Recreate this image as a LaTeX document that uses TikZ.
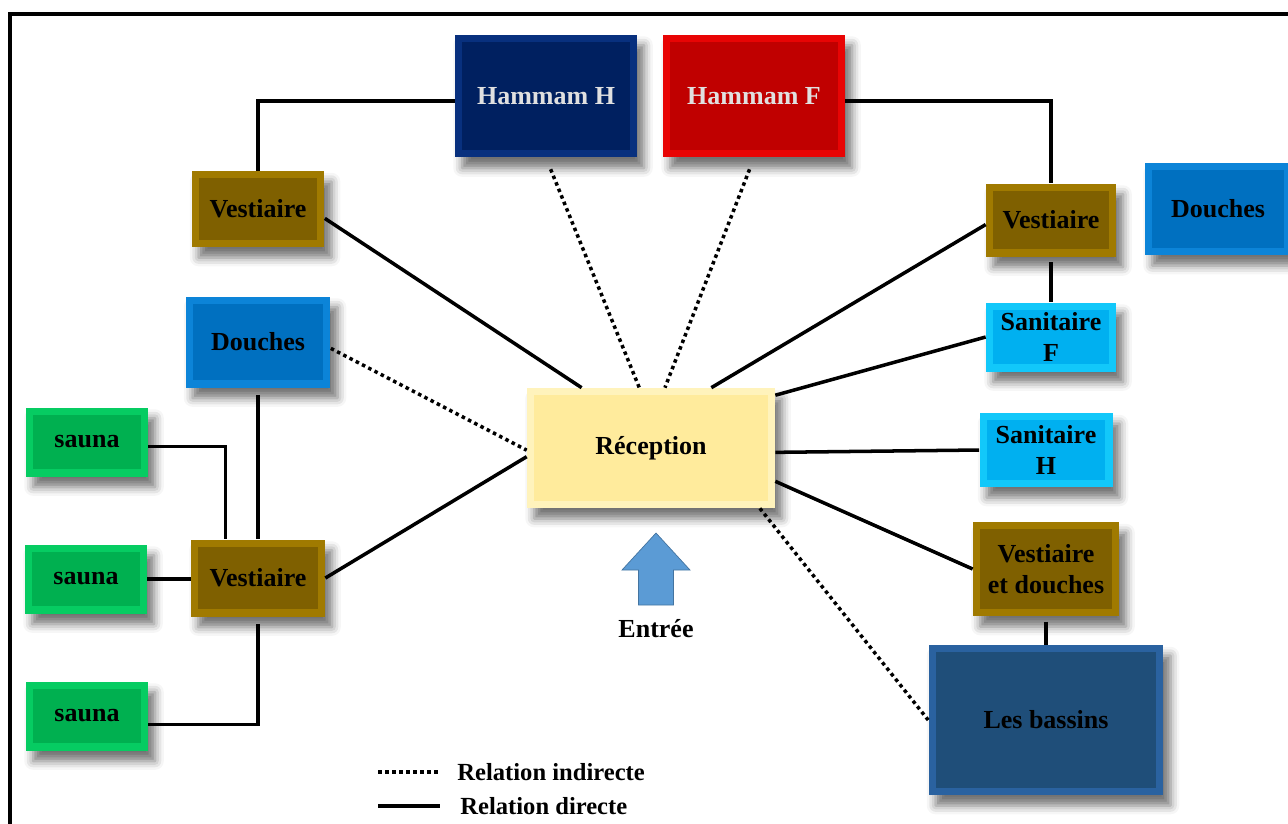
\documentclass[tikz,border=0pt]{standalone}
\usepackage{fontspec}
\setmainfont{Liberation Serif}
\usetikzlibrary{shadows.blur}

\definecolor{gold}{HTML}{7F6000}
\definecolor{goldedge}{HTML}{A07A00}
\definecolor{navy}{HTML}{002060}
\definecolor{navyedge}{HTML}{08307E}
\definecolor{crimson}{HTML}{C00000}
\definecolor{crimsonedge}{HTML}{E80404}
\definecolor{ocean}{HTML}{0070C0}
\definecolor{oceanedge}{HTML}{0C84D8}
\definecolor{sky}{HTML}{00B0F0}
\definecolor{skyedge}{HTML}{12C8FA}
\definecolor{grass}{HTML}{00B050}
\definecolor{grassedge}{HTML}{06CC62}
\definecolor{pool}{HTML}{1F4E79}
\definecolor{pooledge}{HTML}{2A62A0}
\definecolor{cream}{HTML}{FFEB9C}
\definecolor{creamedge}{HTML}{FFF3BC}
\definecolor{entry}{HTML}{5B9BD5}

\tikzset{
  box/.style 2 args={fill=#2, inner sep=0pt, align=center,
    font=\fontsize{14.8}{17.5}\selectfont\bfseries,
    blur shadow={shadow xshift=4pt, shadow yshift=-6pt,
                 shadow blur radius=5pt, shadow opacity=55},
    path picture={\fill[#1]
      ([shift={(4pt,-4pt)}]path picture bounding box.north west) rectangle
      ([shift={(-4pt,4pt)}]path picture bounding box.south east);}},
  direct/.style={line width=2pt},
  indirect/.style={line width=2pt, dotted},
  legend/.style={anchor=west, inner sep=0pt, font=\fontsize{14}{17}\selectfont\bfseries}
}

\begin{document}
\begin{tikzpicture}[x=0.02cm, y=-0.02cm]
\useasboundingbox (0,0) rectangle (1288,823);
\clip (0,0) rectangle (1288,823);
\draw[line width=2.3pt] (10,840) -- (10,14) -- (1300,14);

% top row
\node[box={navy}{navyedge}, text=white!88!black, minimum width=3.64cm, minimum height=2.46cm] (hamH) at (546,96) {Hammam H};
\node[box={crimson}{crimsonedge}, text=white!88!black, minimum width=3.64cm, minimum height=2.46cm] (hamF) at (754,96) {Hammam F};

% left side
\node[box={gold}{goldedge}, minimum width=2.66cm, minimum height=1.52cm] (vestTL) at (258,209) {Vestiaire};
\node[box={ocean}{oceanedge}, minimum width=2.9cm, minimum height=1.82cm] (doucheL) at (258,342) {Douches};
\node[box={gold}{goldedge}, minimum width=2.68cm, minimum height=1.54cm] (vestL) at (258,578) {Vestiaire};
\node[box={grass}{grassedge}, minimum width=2.44cm, minimum height=1.38cm] (sauna1) at (87,442) {sauna};
\node[box={grass}{grassedge}, minimum width=2.44cm, minimum height=1.38cm] (sauna2) at (86,579) {sauna};
\node[box={grass}{grassedge}, minimum width=2.44cm, minimum height=1.38cm] (sauna3) at (87,716) {sauna};

% centre
\node[box={cream}{creamedge}, minimum width=4.96cm, minimum height=2.4cm] (recep) at (651,448) {Réception};
\coordinate (entree) at (656,533);
\fill[entry, draw=entry!75!black, line width=0.4pt]
  (entree) -- ++(34,37) -- ++(-16.5,0) -- ++(0,35) -- ++(-35,0) -- ++(0,-35) -- ++(-16.5,0) -- cycle;
\node[font=\fontsize{14.8}{17.5}\selectfont\bfseries] (entreeLbl) at (656,629) {Entrée};

% right side
\node[box={gold}{goldedge}, minimum width=2.6cm, minimum height=1.46cm] (vestR) at (1051,220) {Vestiaire};
\node[box={ocean}{oceanedge}, minimum width=2.92cm, minimum height=1.84cm] (doucheR) at (1218,209) {Douches};
\node[box={sky}{skyedge}, minimum width=2.6cm, minimum height=1.38cm] (sanF) at (1051,337) {Sanitaire\\F};
\node[box={sky}{skyedge}, minimum width=2.66cm, minimum height=1.48cm] (sanH) at (1046,450) {Sanitaire\\H};
\node[box={gold}{goldedge}, minimum width=2.92cm, minimum height=1.88cm] (vestD) at (1046,569) {Vestiaire\\et douches};
\node[box={pool}{pooledge}, minimum width=4.7cm, minimum height=3cm] (bassins) at (1046,720) {Les bassins};

% links
\draw[direct] (hamH.183) -| (vestTL.north);
\draw[direct] (hamF.-3) -| (vestR.north);
\draw[direct] (vestTL.-8) -- (recep.139);
\draw[indirect, shorten <=7pt] (hamH.south) -- (recep.101);
\draw[indirect, shorten <=7pt] (hamF.south) -- (recep.77);
\draw[indirect] (doucheL.-5) -- (recep.181);
\draw[direct] (vestL.east) -- (recep.184);
\draw[direct] (vestR.184) -- (recep.45);
\draw[direct, shorten <=3pt] (vestR.south) -- (sanF.north);
\draw[direct] (sanF.west) -- (recep.23);
\draw[direct] (sanH.west) -- (recep.-2);
\draw[direct] (vestD.west) -- (recep.-15);
\draw[direct, shorten <=3pt] (vestD.south) -- (bassins.north -| vestD.south);
\draw[indirect] (recep.-29) -- (bassins.west);
\draw[direct] (sauna1.-4) -| (vestL.130);
\draw[direct, shorten <=4pt] (doucheL.south) -- (vestL.north);
\draw[direct] (sauna2.east) -- (sauna2.east -| vestL.west);
\draw[direct, shorten <=4pt] (vestL.south) |- (sauna3.-8);

% legend
\coordinate (indA) at (378,772);
\coordinate (indB) at (440,772);
\coordinate (dirA) at (378,806);
\coordinate (dirB) at (440,806);
\draw[indirect] (indA) -- (indB);
\draw[direct] (dirA) -- (dirB);
\node[legend] (indTxt) at (457,772) {Relation indirecte};
\node[legend] (dirTxt) at (460,806) {Relation directe};
\end{tikzpicture}
\end{document}
